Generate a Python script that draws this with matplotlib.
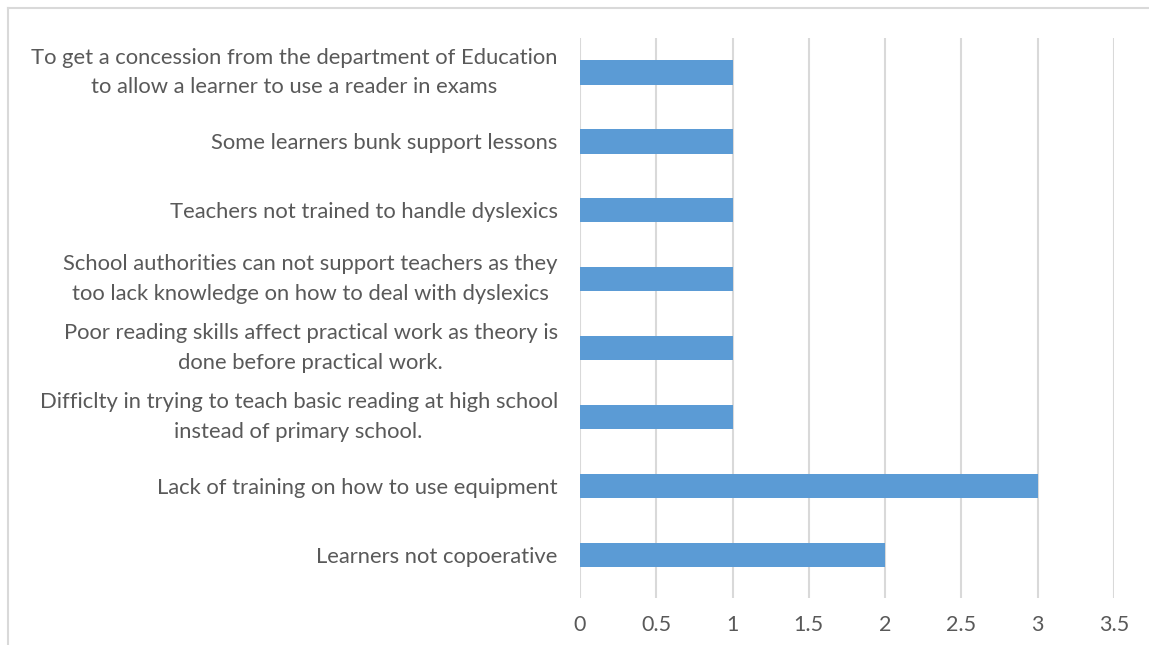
import matplotlib.pyplot as plt
from matplotlib.lines import Line2D

# problems reported, bottom to top as drawn
problems = [
    'Learners not copoerative',
    'Lack of training on how to use equipment',
    'Difficlty in trying to teach basic reading at high school\ninstead of primary school.',
    'Poor reading skills affect practical work as theory is\ndone before practical work.',
    'School authorities can not support teachers as they\ntoo lack knowledge on how to deal with dyslexics',
    'Teachers not trained to handle dyslexics',
    'Some learners bunk support lessons',
    'To get a concession from the department of Education\nto allow a learner to use a reader in exams',
]
counts = [2, 3, 1, 1, 1, 1, 1, 1]
xticks = [0, 0.5, 1, 1.5, 2, 2.5, 3, 3.5]

plt.rcParams['font.family'] = ['Lato', 'DejaVu Sans']
grey = '#595959'

fig = plt.figure(figsize=(11.49, 6.45), dpi=100)
ax = fig.add_axes([0.5048, 1 - 598 / 645, 0.9695 - 0.5048, (598 - 38) / 645])

ax.barh(range(len(problems)), counts, height=0.35, color='#5B9BD5', zorder=3)
ax.set_xlim(0, 3.5)
ax.set_ylim(-0.62, len(problems) - 0.5)
ax.set_xticks(xticks)
ax.set_xticklabels([f'{t:g}' for t in xticks])
ax.set_yticks(range(len(problems)))
ax.set_yticklabels(problems)
for lab in ax.get_yticklabels():
    lab.set_multialignment('center')
    if '\n' in lab.get_text():
        lab.set_verticalalignment('center')
        lab.set_linespacing(1.62)

ax.grid(axis='x', color='#D9D9D9', linewidth=1.5, zorder=0)
ax.tick_params(axis='y', length=0, pad=16, labelsize=15.8, labelcolor=grey)
ax.tick_params(axis='x', length=0, pad=12, labelsize=15.5, labelcolor=grey)
for s in ax.spines.values():
    s.set_visible(False)

# chart frame (top and left edges)
fig.add_artist(Line2D([8 / 1149, 1], [1 - 8 / 645, 1 - 8 / 645], color='#D9D9D9', linewidth=1.5))
fig.add_artist(Line2D([8 / 1149, 8 / 1149], [0, 1 - 8 / 645], color='#D9D9D9', linewidth=1.5))

fig.savefig('out.png', dpi=100)
